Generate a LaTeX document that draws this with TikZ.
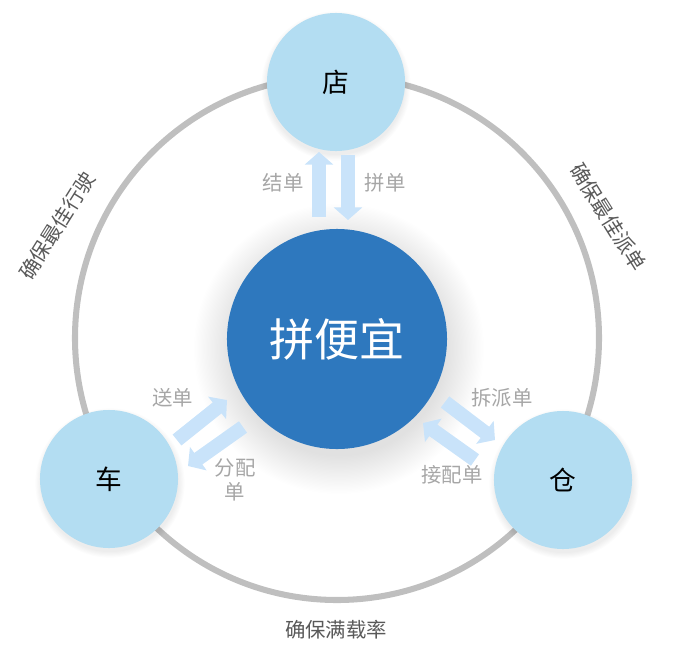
\documentclass[tikz,border=0pt]{standalone}
\usepackage{fontspec}
\newfontfamily\cjk{Noto Sans CJK SC}
\usetikzlibrary{arrows.meta}
\definecolor{ring}{HTML}{BFBFBF}
\definecolor{hub}{HTML}{2E78BE}
\definecolor{sat}{HTML}{B3DDF2}
\definecolor{flow}{HTML}{C9E3FA}
\definecolor{note}{HTML}{A6A6A6}
\definecolor{goal}{HTML}{595959}
\tikzset{
  hubnode/.style={circle, fill=hub, inner sep=0pt, minimum size=5.5cm,
    text=white, font=\cjk\fontsize{32}{36}\selectfont},
  satnode/.style={circle, fill=sat, inner sep=0pt, minimum size=3.45cm,
    text=black, font=\cjk\fontsize{19}{22}\selectfont},
  flowarrow/.style={draw=flow, line width=10pt, -{Triangle[length=9pt,width=20pt]}},
  notelab/.style={text=note, font=\cjk\fontsize{14.5}{17}\selectfont, align=center},
  goallab/.style={text=goal, font=\cjk\fontsize{14.5}{17}\selectfont},
}

\begin{document}
\begin{tikzpicture}[x=0.025cm, y=-0.025cm]
  \useasboundingbox (0,0) rectangle (687,646);

  % outer ring
  \draw[ring, line width=4.3pt] (337,338) circle (262);

  % soft shadows
  \foreach \k in {1,...,30}
    \fill[black, opacity=0.005] (339,349) circle (106+\k*1.3);
  \foreach \p in {(336,86),(110,483),(564,484)}
    \foreach \k in {1,...,6}
      \fill[black, opacity=0.01] \p circle (68+\k*1.1);

  % circles
  \node[hubnode] (hub) at (337,339) {拼便宜};
  \node[satnode] (shop) at (336,82) {店};
  \node[satnode] (car) at (109,479) {车};
  \node[satnode] (depot) at (563,480) {仓};

  % arrow ends
  \coordinate (shopIn) at (319,217);  \coordinate (shopOut) at (319,152);
  \coordinate (mergeIn) at (348,155); \coordinate (mergeOut) at (348,220);
  \coordinate (carIn) at (177,440);   \coordinate (carOut) at (227,400);
  \coordinate (splitIn) at (243,427); \coordinate (splitOut) at (188,466);
  \coordinate (depotIn) at (445,402); \coordinate (depotOut) at (495,440);
  \coordinate (pickIn) at (475,460);  \coordinate (pickOut) at (423,423);

  \draw[flowarrow] (shopIn) -- (shopOut);
  \draw[flowarrow] (mergeIn) -- (mergeOut);
  \draw[flowarrow] (carIn) -- (carOut);
  \draw[flowarrow] (splitIn) -- (splitOut);
  \draw[flowarrow] (depotIn) -- (depotOut);
  \draw[flowarrow] (pickIn) -- (pickOut);

  % arrow labels
  \node[notelab] at (283,183) {结单};
  \node[notelab] at (385,183) {拼单};
  \node[notelab] at (173,398) {送单};
  \node[notelab] at (235,480) {分配\\单};
  \node[notelab] at (502,398) {拆派单};
  \node[notelab] at (452,475) {接配单};

  % ring labels
  \node[goallab, rotate=58] at (57,226) {确保最佳行驶};
  \node[goallab, rotate=-58] at (608,217) {确保最佳派单};
  \node[goallab] at (336,630) {确保满载率};
\end{tikzpicture}
\end{document}
